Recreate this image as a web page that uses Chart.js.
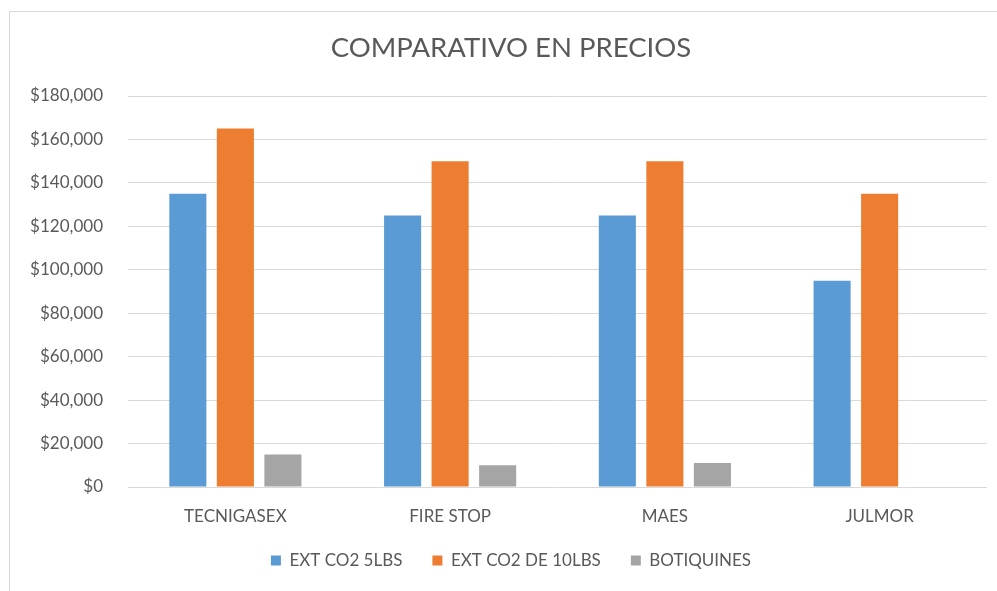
<!DOCTYPE html>
<html lang="es">
<head>
  <meta charset="UTF-8">
  <title>Comparativo en precios</title>
  <script src="https://cdn.jsdelivr.net/npm/chart.js"></script>
  <style>
    html, body {
      margin: 0;
      padding: 0;
      background: #fff;
      overflow: hidden;
    }
    .frame {
      position: absolute;
      left: 9px;
      top: 11px;
      width: 1100px;
      height: 700px;
      border: 1px solid #d9d9d9;
    }
    .wrap {
      position: absolute;
      left: 0;
      top: 0;
      width: 997px;
      height: 591px;
    }
  </style>
</head>
<body>
  <div class="frame"></div>
  <div class="wrap"><canvas id="chart"></canvas></div>

  <script>
    // data
    const empresas = ['TECNIGASEX', 'FIRE STOP', 'MAES', 'JULMOR'];
    const co2_5lbs = [135000, 125000, 125000, 95000];
    const co2_10lbs = [165000, 150000, 150000, 135000];
    const botiquines = [15000, 10000, 11000, 0];

    const textColor = '#595959';
    const fontFamily = 'Lato, "Open Sans", sans-serif';

    const ctx = document.getElementById('chart').getContext('2d');
    new Chart(ctx, {
      type: 'bar',
      data: {
        labels: empresas,
        datasets: [
          { label: 'EXT CO2 5LBS', data: co2_5lbs, backgroundColor: '#5B9BD5' },
          { label: 'EXT CO2 DE 10LBS', data: co2_10lbs, backgroundColor: '#ED7D31' },
          { label: 'BOTIQUINES', data: botiquines, backgroundColor: '#A5A5A5' }
        ]
      },
      options: {
        responsive: true,
        maintainAspectRatio: false,
        animation: false,
        datasets: {
          bar: { barPercentage: 0.78, categoryPercentage: 0.664 }
        },
        layout: {
          padding: { left: 35, right: 10, top: 0, bottom: 12 }
        },
        plugins: {
          title: {
            display: true,
            text: 'COMPARATIVO EN PRECIOS',
            color: textColor,
            font: { family: fontFamily, size: 27.5, weight: 'normal' },
            padding: { top: 32, bottom: 31 }
          },
          legend: {
            position: 'bottom',
            labels: {
              color: textColor,
              font: { family: fontFamily, size: 17 },
              boxWidth: 10,
              boxHeight: 10,
              padding: 30
            }
          },
          tooltip: { enabled: false }
        },
        scales: {
          x: {
            afterFit: function (scale) { scale.height = 35; },
            grid: { display: false, drawTicks: false },
            border: { display: false },
            ticks: {
              color: textColor,
              font: { family: fontFamily, size: 17 },
              padding: 19
            }
          },
          y: {
            min: 0,
            max: 180000,
            afterFit: function (scale) {
              scale.width = 93;
              // labels are wider than the axis box, so don't clip them to it
              scale._computeLabelArea = function () { return undefined; };
            },
            grid: { color: '#d9d9d9', lineWidth: 1, drawTicks: false },
            border: { display: false },
            ticks: {
              stepSize: 20000,
              color: textColor,
              font: { family: fontFamily, size: 17 },
              padding: 25,
              callback: function (v) { return '$' + v.toLocaleString('en-US'); }
            }
          }
        }
      }
    });
  </script>
</body>
</html>
